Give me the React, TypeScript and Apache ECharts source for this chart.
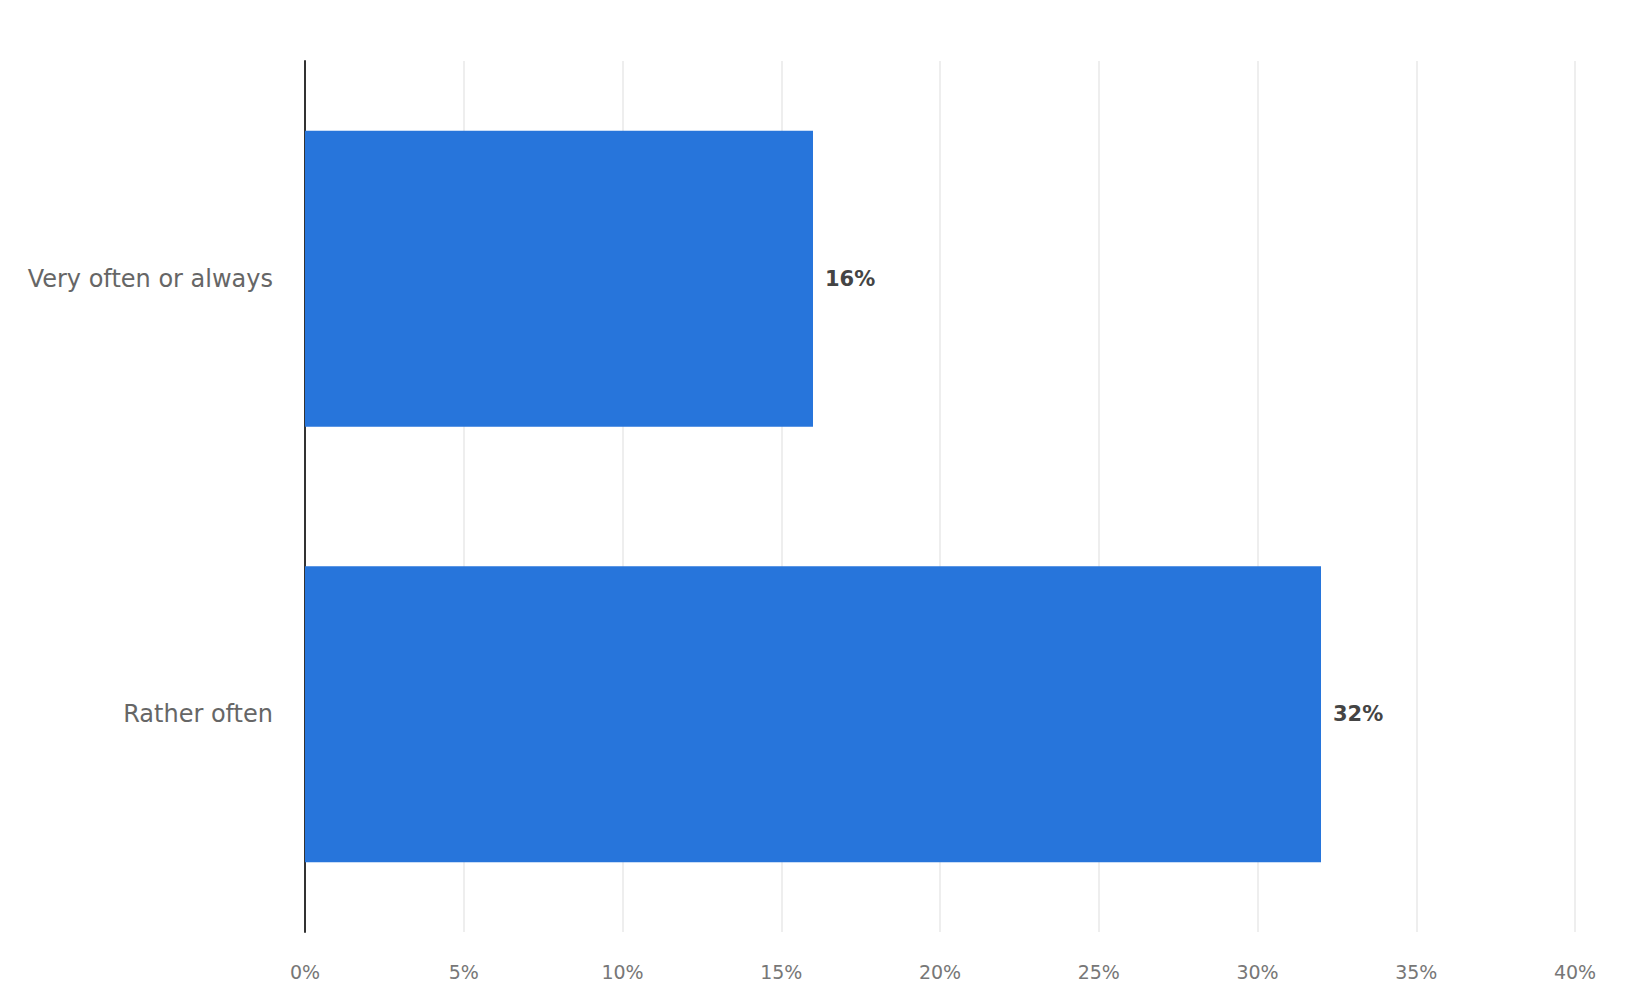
import React, { useEffect, useRef } from "react";
import * as echarts from "echarts";

const categories = ["Rather often", "Very often or always"];
const shares = [32, 16];
const xTicks = [0, 5, 10, 15, 20, 25, 30, 35, 40];

const BAR_BLUE = "#2775db";
const FONT = "'DejaVu Sans', 'Open Sans', sans-serif";

export default function App() {
  const chartRef = useRef<HTMLDivElement>(null);

  useEffect(() => {
    document.body.style.margin = "0";
    if (!chartRef.current) return;
    const chart = echarts.init(chartRef.current, undefined, { renderer: "svg" });

    const option: echarts.EChartsOption = {
      animation: false,
      backgroundColor: "#ffffff",
      textStyle: { fontFamily: FONT },
      grid: { left: 305, right: 73, top: 61, bottom: 53 },
      xAxis: {
        type: "value",
        min: xTicks[0],
        max: xTicks[xTicks.length - 1],
        interval: 5,
        axisLine: { show: false },
        axisTick: { show: false },
        axisLabel: {
          color: "#777",
          fontSize: 19,
          margin: 30,
          formatter: (v: number) => `${v}%`,
        },
        splitLine: { show: true, lineStyle: { color: "#e8e8e8", width: 1.5 } },
      },
      yAxis: {
        type: "category",
        data: categories,
        axisLine: { show: true, lineStyle: { color: "#333", width: 2 } },
        axisTick: { show: false },
        axisLabel: { color: "#666", fontSize: 24, margin: 32 },
        splitLine: { show: false },
      },
      series: [
        {
          type: "bar",
          data: shares,
          barWidth: "68%",
          itemStyle: { color: BAR_BLUE },
          label: {
            show: true,
            position: "right",
            distance: 12,
            color: "#444",
            fontSize: 21,
            fontWeight: "bold",
            formatter: (p: any) => `${p.value}%`,
          },
        },
      ],
    };

    chart.setOption(option);
    return () => chart.dispose();
  }, []);

  return <div ref={chartRef} style={{ width: 1648, height: 985 }} />;
}
